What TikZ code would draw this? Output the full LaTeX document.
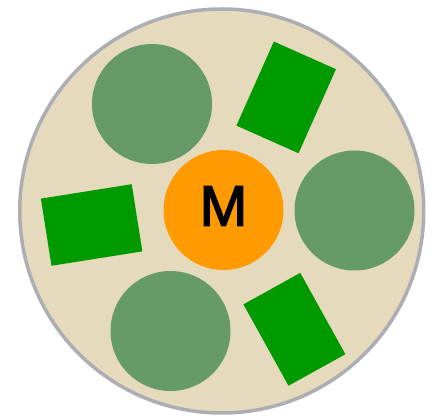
\documentclass[tikz,border=0pt]{standalone}
\usepackage{fontspec}
\setmainfont{Liberation Sans}
\definecolor{plate}{RGB}{230,218,188}
\definecolor{rim}{RGB}{172,174,180}
\definecolor{disc}{RGB}{102,154,104}
\definecolor{block}{RGB}{0,153,0}
\definecolor{motor}{RGB}{255,155,0}
\newcommand{\heavytext}[1]{\special{pdf:literal direct 2 Tr 1.4 w}#1\special{pdf:literal direct 0 Tr 1 w}}
\tikzset{
  discnode/.style={circle,fill=disc,minimum size=120pt,inner sep=0pt},
  blocknode/.style={rectangle,fill=block,inner sep=0pt},
  motornode/.style={circle,fill=motor,minimum size=120pt,inner sep=0pt}
}
\begin{document}
\begin{tikzpicture}[x=1pt,y=1pt]
\useasboundingbox (0,0) rectangle (437,420);
\fill[white] (0,0) rectangle (437,420);
\node[circle,fill=plate,draw=rim,line width=3.5pt,minimum size=404pt,inner sep=0pt] (plate) at (221.75,209) {};
\node[discnode] (d1) at (152,316) {};
\node[discnode] (d2) at (354.5,209.5) {};
\node[discnode] (d3) at (170.5,89) {};
\node[blocknode,minimum width=68pt,minimum height=92pt,rotate=-24] (b1) at (286.2,322.6) {};
\node[blocknode,minimum width=92pt,minimum height=68pt,rotate=9] (b2) at (91.6,195) {};
\node[blocknode,minimum width=65pt,minimum height=93pt,rotate=29] (b3) at (294.4,90.7) {};
\node[motornode] (m) at (223.5,210) {};
\node[inner sep=0pt,font=\fontsize{57}{60}\selectfont] (mlabel) at (223.5,214) {\heavytext{M}};
\end{tikzpicture}
\end{document}
